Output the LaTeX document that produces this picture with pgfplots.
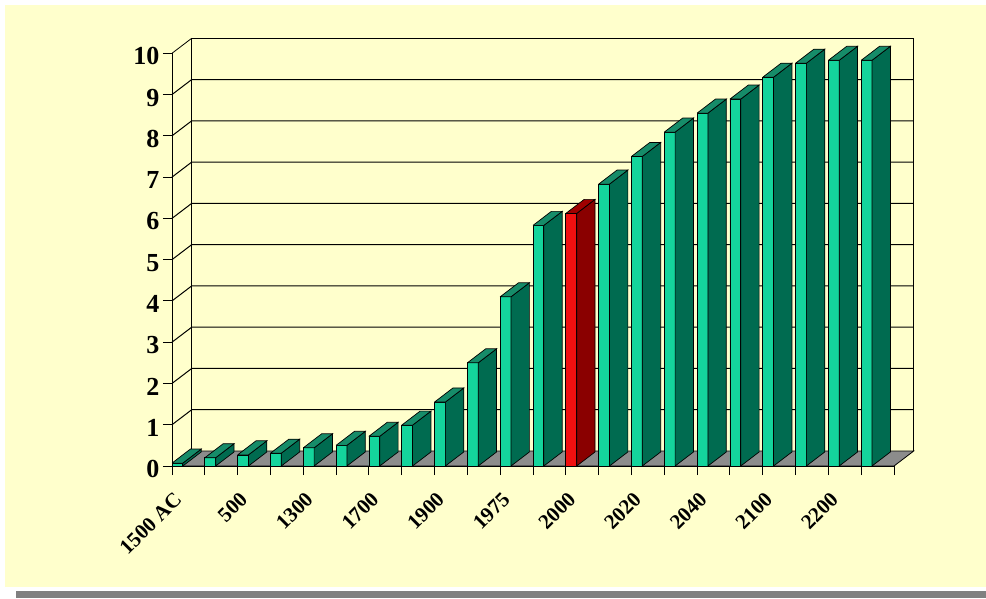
\documentclass[border=0pt]{standalone}
\usepackage{pgfplots}
\pgfplotsset{compat=1.18}
\usepackage{fontspec}
\setmainfont{Liberation Serif}
\definecolor{cream}{HTML}{FFFFCC}
\definecolor{frontg}{HTML}{14D49C}
\definecolor{sideg}{HTML}{006B50}
\definecolor{topg}{HTML}{168C69}
\definecolor{frontr}{HTML}{F01010}
\definecolor{sider}{HTML}{8A0000}
\definecolor{topr}{HTML}{A00000}
\definecolor{floorg}{HTML}{8C8C8C}
\definecolor{stripg}{HTML}{808080}
% bar geometry (axis units)
\def\fw{0.33}
\def\bx{0.56}
\def\by{0.34}
% \tdbar{index}{value}{front}{side}{top}
\newcommand\tdbar[5]{%
  \pgfmathsetmacro\xa{#1-0.5}%
  \pgfmathsetmacro\xb{#1-0.5+\fw}%
  \pgfmathsetmacro\xc{#1-0.5+\fw+\bx}%
  \pgfmathsetmacro\xd{#1-0.5+\bx}%
  \pgfmathsetmacro\yt{#2}%
  \pgfmathsetmacro\ytb{#2+\by}%
  \edef\tmp{%
    \noexpand\addplot[draw=black, line width=0.7pt, fill=#3] coordinates {(\xa,0) (\xb,0) (\xb,\yt) (\xa,\yt) (\xa,0)};
    \noexpand\addplot[draw=black, line width=0.7pt, fill=#4] coordinates {(\xb,0) (\xc,\by) (\xc,\ytb) (\xb,\yt) (\xb,0)};
    \noexpand\addplot[draw=black, line width=0.7pt, fill=#5] coordinates {(\xa,\yt) (\xb,\yt) (\xc,\ytb) (\xd,\ytb) (\xa,\yt)};
  }\tmp
}
\begin{document}
\begin{tikzpicture}
\useasboundingbox (0,0) rectangle (986pt,598pt);
\fill[white] (0,0) rectangle (986pt,598pt);
\fill[cream] (5pt,11pt) rectangle (986pt,593pt);
\fill[stripg] (16pt,0pt) rectangle (986pt,7pt);
\begin{axis}[
  at={(172pt,132pt)}, anchor=south west,
  scale only axis, width=741.7pt, height=427.7pt,
  xmin=-0.5, xmax=22.1, ymin=0, ymax=10.363,
  axis x line*=bottom, axis y line*=left,
  axis line style={draw=none},
  clip=false,
  tick align=outside, major tick length=9pt, minor tick length=9pt,
  tick style={black, line width=0.9pt},
  ytick={0,1,...,10},
  xtick={-0.5,1.5,...,21.5},
  minor x tick num=1,
  xticklabels={1500 AC,500,1300,1700,1900,1975,2000,2020,2040,2100,2200,{}},
  /pgf/number format/assume math mode=true,
  yticklabel style={font=\fontsize{26}{26}\selectfont\bfseries, yshift=-3pt},
  xticklabel style={font=\fontsize{21}{21}\selectfont\bfseries, rotate=45, anchor=east, xshift=-7pt, yshift=-19pt},
]
% floor
\addplot[draw=black, line width=0.8pt, fill=floorg] coordinates {(-0.5,0) (21.5,0) (22.1,0.363) (0.1,0.363) (-0.5,0)};
% back wall outline
\addplot[draw=black, line width=1pt] coordinates {(0.1,0.363) (0.1,10.363) (22.1,10.363) (22.1,0.363)};
\addplot[draw=black, line width=0.8pt] coordinates {(-0.5,10) (0.1,10.363)};
% gridlines with left-wall diagonals
\addplot[draw=black, line width=1pt] coordinates {(-0.5,1) (0.1,1.363) (22.1,1.363)};
\addplot[draw=black, line width=1pt] coordinates {(-0.5,2) (0.1,2.363) (22.1,2.363)};
\addplot[draw=black, line width=1pt] coordinates {(-0.5,3) (0.1,3.363) (22.1,3.363)};
\addplot[draw=black, line width=1pt] coordinates {(-0.5,4) (0.1,4.363) (22.1,4.363)};
\addplot[draw=black, line width=1pt] coordinates {(-0.5,5) (0.1,5.363) (22.1,5.363)};
\addplot[draw=black, line width=1pt] coordinates {(-0.5,6) (0.1,6.363) (22.1,6.363)};
\addplot[draw=black, line width=1pt] coordinates {(-0.5,7) (0.1,7.363) (22.1,7.363)};
\addplot[draw=black, line width=1pt] coordinates {(-0.5,8) (0.1,8.363) (22.1,8.363)};
\addplot[draw=black, line width=1pt] coordinates {(-0.5,9) (0.1,9.363) (22.1,9.363)};
% bars
\tdbar{0}{0.07}{frontg}{sideg}{topg}
\tdbar{1}{0.20}{frontg}{sideg}{topg}
\tdbar{2}{0.27}{frontg}{sideg}{topg}
\tdbar{3}{0.31}{frontg}{sideg}{topg}
\tdbar{4}{0.44}{frontg}{sideg}{topg}
\tdbar{5}{0.50}{frontg}{sideg}{topg}
\tdbar{6}{0.72}{frontg}{sideg}{topg}
\tdbar{7}{0.99}{frontg}{sideg}{topg}
\tdbar{8}{1.55}{frontg}{sideg}{topg}
\tdbar{9}{2.50}{frontg}{sideg}{topg}
\tdbar{10}{4.10}{frontg}{sideg}{topg}
\tdbar{11}{5.83}{frontg}{sideg}{topg}
\tdbar{12}{6.12}{frontr}{sider}{topr}
\tdbar{13}{6.83}{frontg}{sideg}{topg}
\tdbar{14}{7.50}{frontg}{sideg}{topg}
\tdbar{15}{8.09}{frontg}{sideg}{topg}
\tdbar{16}{8.55}{frontg}{sideg}{topg}
\tdbar{17}{8.89}{frontg}{sideg}{topg}
\tdbar{18}{9.42}{frontg}{sideg}{topg}
\tdbar{19}{9.76}{frontg}{sideg}{topg}
\tdbar{20}{9.83}{frontg}{sideg}{topg}
\tdbar{21}{9.83}{frontg}{sideg}{topg}
% front axis lines
\addplot[draw=black, line width=1pt] coordinates {(-0.5,10) (-0.5,0) (21.5,0)};
\end{axis}
\end{tikzpicture}
\end{document}
